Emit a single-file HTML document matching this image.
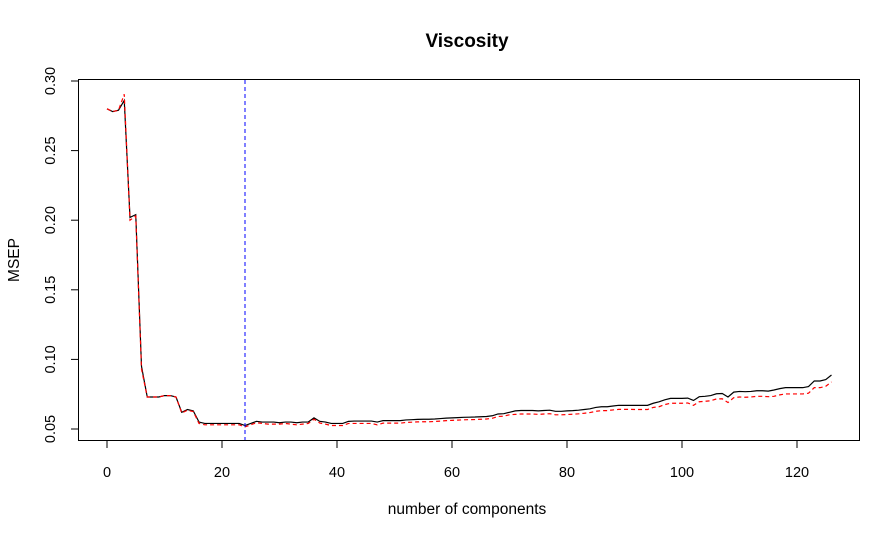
<!DOCTYPE html>
<html><head><meta charset="utf-8"><style>
body{margin:0;background:#fff}
svg{display:block;font-family:"Liberation Sans",Arial,sans-serif}
</style></head><body>
<svg id="chart" width="896" height="538" viewBox="0 0 896 538" xmlns="http://www.w3.org/2000/svg">
<rect width="896" height="538" fill="#fff"/>
<text x="467" y="47" text-anchor="middle" font-size="19" font-weight="bold">Viscosity</text>
<text x="467" y="514" text-anchor="middle" font-size="15.5">number of components</text>
<text transform="translate(19,260) rotate(-90)" text-anchor="middle" font-size="15.5">MSEP</text>
<rect x="78.5" y="79.5" width="781" height="361" fill="none" stroke="#000" stroke-width="1"/>
<g id="axes"></g>
<g id="series"></g>
</svg>
<script>
const xTicks=[0,20,40,60,80,100,120];
const yTicks=[0.05,0.10,0.15,0.20,0.25,0.30];
const yTickLabels=["0.05","0.10","0.15","0.20","0.25","0.30"];
const selectedComp=24;
const cvMSEP=[0.280,0.278,0.279,0.286,0.202,0.204,0.095,0.073,0.073,0.073,0.074,0.074,0.073,0.062,0.064,0.063,0.055,0.054,0.054,0.054,0.054,0.054,0.054,0.054,0.0525,0.054,0.0555,0.055,0.055,0.055,0.0545,0.055,0.055,0.0545,0.055,0.055,0.058,0.0555,0.055,0.054,0.054,
0.054,0.0555,0.0557,0.0557,0.0557,0.0557,0.055,0.056,0.056,0.056,0.056,0.0565,0.0567,0.0569,0.057,0.057,0.0572,0.0575,0.0578,0.058,0.0582,0.0584,0.0585,0.0586,0.0588,0.059,0.0595,0.0608,0.061,0.062,0.063,0.0633,0.0633,0.0633,0.063,0.0633,0.0635,0.0627,0.0627,0.063,0.0632,0.0635,0.064,0.0645,0.0655,0.066,0.066,0.0665,0.067,0.067,0.067,0.067,0.067,0.067,0.0685,0.0695,0.071,0.072,0.072,0.072,0.0722,0.0705,0.0732,0.0735,0.074,0.0753,0.0755,0.073,0.0765,0.077,0.0768,0.077,0.0775,0.0775,0.0772,0.078,0.079,0.0797,0.0797,0.0797,0.0797,0.0805,0.0845,0.0845,0.0855,0.0888];
const adjCvMSEP=[0.280,0.278,0.279,0.2905,0.200,0.203,0.093,0.073,0.073,0.073,0.074,0.074,0.073,0.0615,0.0635,0.0625,0.054,0.053,0.053,0.053,0.053,0.053,0.053,0.053,0.0515,0.053,0.0545,0.054,0.0535,0.0535,0.0535,0.054,0.0535,0.053,0.0535,0.054,0.057,0.0543,0.0535,0.0525,0.0525,
0.0525,0.054,0.054,0.054,0.054,0.054,0.053,0.0542,0.0542,0.0542,0.0542,0.0547,0.0549,0.0551,0.0552,0.0552,0.0554,0.0557,0.056,0.0562,0.0564,0.0566,0.0567,0.0568,0.057,0.0572,0.0577,0.059,0.0592,0.0602,0.0605,0.0608,0.0608,0.0608,0.0605,0.0608,0.061,0.0602,0.0602,0.0604,0.0606,0.0609,0.0613,0.0618,0.0627,0.0632,0.0632,0.0637,0.0641,0.0641,0.0641,0.064,0.064,0.064,0.0655,0.066,0.0675,0.0685,0.0685,0.0685,0.0687,0.067,0.0696,0.0699,0.0703,0.0716,0.0717,0.069,0.0725,0.073,0.0728,0.073,0.0735,0.0735,0.0732,0.0735,0.0745,0.0752,0.0752,0.0752,0.0752,0.0757,0.0797,0.0797,0.0807,0.0838];

const NS="http://www.w3.org/2000/svg";
const X=v=>107+v*5.75;
const Y=v=>81+(0.30-v)*1392;
const axes=document.getElementById('axes');
const series=document.getElementById('series');
function mk(tag,attrs,parent){const e=document.createElementNS(NS,tag);for(const k in attrs)e.setAttribute(k,attrs[k]);parent.appendChild(e);return e;}

xTicks.forEach(t=>{
  const l=mk('line',{x1:X(t),x2:X(t),y1:440.5,y2:448,stroke:'#000'},axes);
  
  
  const tx=mk('text',{x:X(t),y:477,'text-anchor':'middle','font-size':'14.5'},axes);
  tx.textContent=t;
  
  
});
yTicks.forEach((t,i)=>{
  const l=mk('line',{x1:71,x2:78.5,y1:Y(t),y2:Y(t),stroke:'#000'},axes);
  
  
  const tx=mk('text',{transform:`translate(55,${Y(t)}) rotate(-90)`,'text-anchor':'middle','font-size':'14.5'},axes);
  tx.textContent=yTickLabels[i];
  
  
});
const pts=a=>a.map((v,i)=>X(i).toFixed(2)+','+Y(v).toFixed(2)).join(' ');
const cv=mk('polyline',{points:pts(cvMSEP),fill:'none',stroke:'#000','stroke-width':1.2},series);


const adj=mk('polyline',{points:pts(adjCvMSEP),fill:'none',stroke:'#f00','stroke-width':1.2,'stroke-dasharray':'4,3'},series);


const vl=mk('line',{x1:X(selectedComp),x2:X(selectedComp),y1:80,y2:440,stroke:'#00f','stroke-width':1,'stroke-dasharray':'4,3'},series);


</script>
</body></html>
